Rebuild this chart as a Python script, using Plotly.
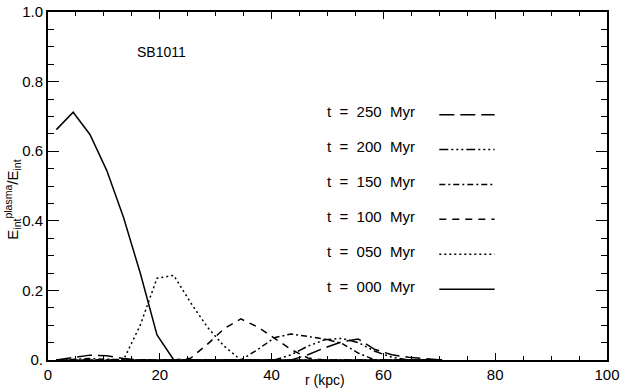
import plotly.graph_objects as go

# radius grid (kpc) and E_int^plasma / E_int profiles
r_kpc = [1.5, 4.5, 7.5, 10.5, 13.5, 16.5, 19.5, 22.5, 25.5, 28.5, 31.5, 34.5,
         37.5, 40.5, 43.5, 46.5, 49.5, 52.5, 55.5, 58.5, 61.5, 64.5, 67.5, 70.5]

t000 = [0.662, 0.712, 0.648, 0.545, 0.410, 0.250, 0.072, 0.0, 0.0, 0.0, 0.0, 0.0,
        0.0, 0.0, 0.0, 0.0, 0.0, 0.0, 0.0, 0.0, 0.0, 0.0, 0.0, 0.0]
t050 = [0.0, 0.0, 0.0, 0.0, 0.0, 0.100, 0.235, 0.243, 0.165, 0.095, 0.040, 0.0,
        0.0, 0.0, 0.0, 0.0, 0.0, 0.0, 0.0, 0.0, 0.0, 0.0, 0.0, 0.0]
t100 = [0.0, 0.0, 0.0, 0.0, 0.0, 0.0, 0.0, 0.0, 0.005, 0.045, 0.090, 0.118,
        0.095, 0.062, 0.030, 0.006, 0.0, 0.0, 0.0, 0.0, 0.0, 0.0, 0.0, 0.0]
t150 = [0.0, 0.002, 0.004, 0.002, 0.0, 0.0, 0.0, 0.0, 0.0, 0.0, 0.0, 0.0,
        0.030, 0.064, 0.075, 0.068, 0.060, 0.048, 0.020, 0.0, 0.0, 0.0, 0.0, 0.0]
t200 = [0.0, 0.0, 0.0, 0.0, 0.0, 0.0, 0.0, 0.0, 0.0, 0.0, 0.0, 0.0,
        0.0, 0.0, 0.015, 0.040, 0.058, 0.062, 0.050, 0.025, 0.008, 0.0, 0.0, 0.0]
t250 = [0.0, 0.006, 0.014, 0.012, 0.004, 0.0, 0.0, 0.0, 0.0, 0.0, 0.0, 0.0,
        0.0, 0.0, 0.0, 0.015, 0.035, 0.052, 0.060, 0.030, 0.015, 0.008, 0.003, 0.0]

labels = ["t = 250 Myr", "t = 200 Myr", "t = 150 Myr",
          "t = 100 Myr", "t = 050 Myr", "t = 000 Myr"]
series = [t250, t200, t150, t100, t050, t000]
dashes = ["15px,6px",
          "9px,3px,2px,3px,2px,3px,2px,3px",
          "6px,3px,2px,3px",
          "7px,6px",
          "2px,3px",
          "solid"]

font = "Liberation Sans, Arial, sans-serif"

fig = go.Figure()
for lab, ys, d in zip(labels, series, dashes):
    fig.add_trace(go.Scatter(x=r_kpc, y=ys, mode="lines", name=lab,
                             line=dict(color="black", width=1.5, dash=d)))

# legend drawn IDL style: text on the left, line sample on the right
annotations = []
shapes = []
for i, (lab, d) in enumerate(zip(labels, dashes)):
    yp = 0.714 - i * 0.1003
    annotations.append(dict(xref="paper", yref="paper", x=0.495, y=yp,
                            xanchor="left", yanchor="middle", showarrow=False,
                            text=lab.replace(" ", "\u00a0\u00a0").replace("\u00a0\u00a0Myr", "\u00a0 Myr"),
                            font=dict(family=font, size=15, color="black")))
    shapes.append(dict(type="line", xref="paper", yref="paper",
                       x0=0.70, x1=0.799, y0=yp - 0.009, y1=yp - 0.009,
                       line=dict(color="black", width=1.5, dash=d)))

annotations.append(dict(xref="paper", yref="paper", x=0.155, y=0.885,
                        xanchor="left", yanchor="middle", showarrow=False,
                        text="SB1011", font=dict(family=font, size=14, color="black")))
annotations.append(dict(xref="paper", yref="paper", x=0.496, y=-0.058,
                        xanchor="center", yanchor="middle", showarrow=False,
                        text="r (kpc)", font=dict(family=font, size=14, color="black")))
annotations.append(dict(xref="paper", yref="paper", x=-0.063, y=0.46,
                        xanchor="center", yanchor="middle", showarrow=False, textangle=-90,
                        text="E<sub>int</sub><sup>plasma</sup>/E<sub>int</sub>",
                        font=dict(family=font, size=15, color="black")))

fig.update_layout(
    width=623, height=388,
    margin=dict(l=48, r=13, t=3, b=28),
    paper_bgcolor="white", plot_bgcolor="white",
    showlegend=False,
    font=dict(family=font, size=15, color="black"),
    annotations=annotations,
    shapes=shapes,
    xaxis=dict(range=[0, 100], tickvals=[0, 20, 40, 60, 80, 100],
               ticks="inside", ticklen=7, tickwidth=1, tickcolor="black",
               minor=dict(dtick=5, ticks="inside", ticklen=4, tickcolor="black"),
               showline=True, linewidth=2, linecolor="black", mirror="allticks",
               showgrid=False, zeroline=False, ticklabeloverflow="allow"),
    yaxis=dict(range=[0, 1], tickvals=[0, 0.2, 0.4, 0.6, 0.8, 1.0],
               ticktext=["0.", "0.2", "0.4", "0.6", "0.8", "1.0"],
               ticks="inside", ticklen=11, tickwidth=1, tickcolor="black",
               minor=dict(dtick=0.05, ticks="inside", ticklen=6, tickcolor="black"),
               showline=True, linewidth=2, linecolor="black", mirror="allticks",
               showgrid=False, zeroline=False, ticklabeloverflow="allow"),
)

# the page's default body margin would push the 623x388 figure off the window
fig.write_html("out.html", config={"displayModeBar": False},
               post_script="document.body.style.margin='0';")
